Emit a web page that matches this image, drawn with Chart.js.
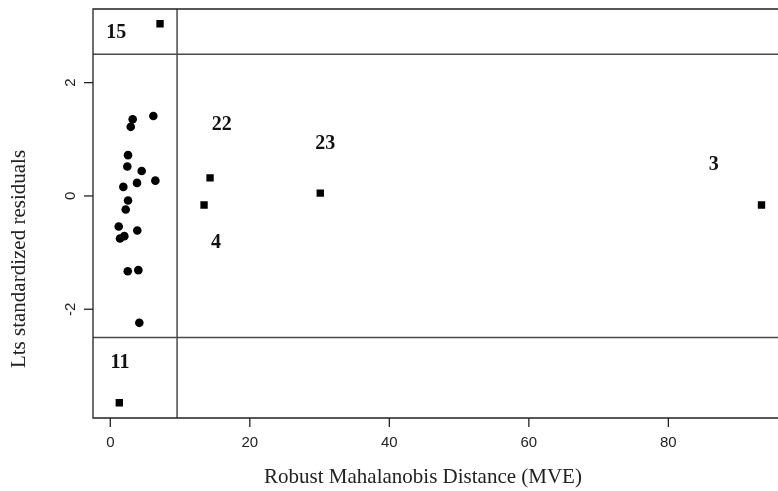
<!DOCTYPE html>
<html lang="en">
<head>
  <meta charset="UTF-8" />
  <title>Lts residuals vs robust distance</title>
  <style>
    body {
      margin: 0;
      background: white;
    }
    canvas {
      display: block;
    }
  </style>
  <script src="https://cdn.jsdelivr.net/npm/chart.js"></script>
</head>
<body>
  <canvas id="grafico" width="778" height="491"></canvas>

  <script>
    // regular observations (circles)
    const regularX = [3.21, 2.93, 6.17, 2.54, 2.44, 4.5, 6.46, 3.83, 1.87, 2.54, 2.21, 1.21, 3.87, 1.39, 2.01, 2.5, 4.02, 4.16];
    const regularY = [1.355, 1.22, 1.41, 0.72, 0.52, 0.44, 0.27, 0.23, 0.16, -0.08, -0.24, -0.54, -0.61, -0.75, -0.71, -1.33, -1.31, -2.24];

    // flagged observations (squares)
    const outlierX = [7.13, 14.3, 13.44, 30.1, 93.35, 1.29];
    const outlierY = [3.04, 0.32, -0.16, 0.05, -0.16, -3.65];

    // observation numbers written on the plot
    const labelNames = ["15", "22", "23", "3", "4", "11"];
    const labelX = [0.86, 15.98, 30.8, 86.5, 15.16, 1.39];
    const labelY = [2.88, 1.25, 0.92, 0.55, -0.83, -2.95];

    const cutoffX = 9.57;
    const cutoffY = [-2.5, 2.5];

    const xTicks = [0, 20, 40, 60, 80];
    const yTicks = [-2, 0, 2];

    const xTitle = "Robust Mahalanobis Distance (MVE)";
    const yTitle = "Lts standardized residuals";

    const toPoints = (xs, ys) => xs.map((x, i) => ({ x: x, y: ys[i] }));

    // axes, box, cutoff lines and text, R style
    const estiloR = {
      id: "estiloR",
      beforeDatasetsDraw(chart) {
        const ctx = chart.ctx;
        const area = chart.chartArea;
        const sx = chart.scales.x;
        const sy = chart.scales.y;
        const direita = chart.width;

        ctx.save();
        ctx.strokeStyle = "#4a4a4a";
        ctx.lineWidth = 1.5;
        ctx.beginPath();
        const vx = sx.getPixelForValue(cutoffX);
        ctx.moveTo(vx, area.top);
        ctx.lineTo(vx, area.bottom);
        cutoffY.forEach((c) => {
          const py = sy.getPixelForValue(c);
          ctx.moveTo(area.left, py);
          ctx.lineTo(direita, py);
        });
        ctx.stroke();
        ctx.restore();
      },
      afterDatasetsDraw(chart) {
        const ctx = chart.ctx;
        const area = chart.chartArea;
        const sx = chart.scales.x;
        const sy = chart.scales.y;
        const direita = chart.width;

        ctx.save();

        // box (right side falls outside the picture)
        ctx.strokeStyle = "#222";
        ctx.lineWidth = 1.3;
        ctx.beginPath();
        ctx.moveTo(direita, area.top);
        ctx.lineTo(area.left, area.top);
        ctx.lineTo(area.left, area.bottom);
        ctx.lineTo(direita, area.bottom);
        ctx.stroke();

        // x ticks
        ctx.fillStyle = "#222";
        ctx.font = "15px 'Liberation Sans', Arial, sans-serif";
        ctx.textAlign = "center";
        ctx.textBaseline = "middle";
        xTicks.forEach((t) => {
          const px = sx.getPixelForValue(t);
          ctx.beginPath();
          ctx.moveTo(px, area.bottom);
          ctx.lineTo(px, area.bottom + 9);
          ctx.stroke();
          ctx.fillText(String(t), px, area.bottom + 25);
        });

        // y ticks, labels rotated like R
        yTicks.forEach((t) => {
          const py = sy.getPixelForValue(t);
          ctx.beginPath();
          ctx.moveTo(area.left - 9, py);
          ctx.lineTo(area.left, py);
          ctx.stroke();
          ctx.save();
          ctx.translate(area.left - 22, py);
          ctx.rotate(-Math.PI / 2);
          ctx.fillText(String(t), 0, 0);
          ctx.restore();
        });

        // axis titles
        ctx.font = "21px 'Liberation Serif', 'Times New Roman', serif";
        ctx.fillText(xTitle, 423, 477);
        ctx.save();
        ctx.translate(19, 259);
        ctx.rotate(-Math.PI / 2);
        ctx.fillText(yTitle, 0, 0);
        ctx.restore();

        // observation numbers
        ctx.font = "bold 20px 'Liberation Serif', 'Times New Roman', serif";
        ctx.fillStyle = "#111";
        labelNames.forEach((nome, i) => {
          ctx.fillText(nome, sx.getPixelForValue(labelX[i]), sy.getPixelForValue(labelY[i]));
        });

        ctx.restore();
      },
    };

    new Chart(document.getElementById("grafico").getContext("2d"), {
      type: "scatter",
      data: {
        datasets: [
          {
            label: "regular",
            data: toPoints(regularX, regularY),
            pointStyle: "circle",
            pointRadius: 4.3,
            backgroundColor: "#000",
            borderWidth: 0,
          },
          {
            label: "outliers",
            data: toPoints(outlierX, outlierY),
            pointStyle: "rect",
            pointRadius: 5.2,
            backgroundColor: "#000",
            borderWidth: 0,
          },
        ],
      },
      options: {
        responsive: false,
        animation: false,
        layout: {
          padding: { left: 93, top: 9, right: 0, bottom: 73 },
        },
        plugins: {
          legend: { display: false },
          tooltip: { enabled: false },
        },
        scales: {
          x: { type: "linear", display: false, min: -2.48, max: 94.97 },
          y: { type: "linear", display: false, min: -3.92, max: 3.3 },
        },
      },
      plugins: [estiloR],
    });
  </script>
</body>
</html>
